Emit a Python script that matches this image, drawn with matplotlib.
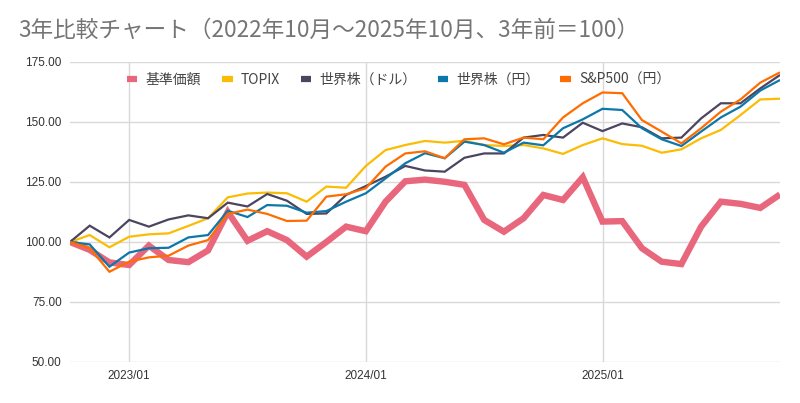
import matplotlib
matplotlib.use('Agg')
import matplotlib.pyplot as plt
import numpy as np
import pandas as pd

plt.rcParams['font.family'] = ['Noto Sans CJK JP', 'DejaVu Sans']

TITLE = '3年比較チャート（2022年10月～2025年10月、3年前＝100）'

months = [d.strftime('%Y/%m') for d in pd.date_range('2022-10-01', periods=37, freq='MS')]

fund = [100, 96.7, 91.5, 90.4, 98.5, 92.5, 91.6, 96.5, 112.5, 100.5, 104.5, 100.8,
        93.9, 100, 106.4, 104.5, 116.8, 125.3, 126, 125.1, 123.8, 109.2, 104.3, 109.9,
        119.6, 117.5, 127, 108.5, 108.7, 97.4, 91.8, 90.8, 106.4, 116.8, 115.9, 114.2,
        119.8]
topix = [100, 102.9, 97.8, 102.2, 103.2, 103.6, 106.7, 109.9, 118.6, 120.2, 120.6, 120.3,
         116.8, 123.1, 122.6, 131.7, 138.3, 140.4, 142.1, 141.4, 142.2, 140.4, 140, 140.4,
         139, 136.7, 140.4, 143.2, 140.8, 140.1, 137.2, 138.6, 143.2, 146.7, 152.9, 159.4,
         159.7]
world_usd = [100, 106.8, 101.9, 109.2, 106.4, 109.4, 111.1, 109.9, 116.4, 114.8, 120, 117.2,
             111.7, 111.9, 119.6, 123.3, 127.2, 131.7, 129.8, 129.3, 135.1, 136.9, 136.9, 143.5,
             144.6, 143.5, 149.7, 146.2, 149.4, 147.8, 143.2, 143.5, 151.5, 157.8, 157.8, 164,
             169.6]
world_jpy = [100, 99, 89.7, 95.6, 97.4, 97.6, 101.9, 102.9, 113, 110.4, 115.4, 115.1,
             112.2, 112.9, 116.8, 120.3, 126.5, 132.8, 137, 134.9, 141.8, 140.4, 137.2, 141.4,
             140.3, 147.4, 151.1, 155.5, 155, 147.4, 142.8, 140, 146, 151.9, 156.4, 163.1,
             167.5]
sp500_jpy = [100, 97.4, 87.6, 91.8, 93.6, 94.3, 98.5, 100.8, 111.7, 113.5, 111.7, 108.75,
             108.9, 118.9, 119.9, 122.4, 131.4, 136.9, 137.8, 134.9, 142.8, 143.2, 140.7, 143.5,
             142.8, 151.9, 157.8, 162.3, 162, 150.8, 146, 141.1, 147.4, 154.3, 159.4, 166.4,
             170.7]

series = [
    ('基準価額', fund, '#e8677c', 4.6),
    ('TOPIX', topix, '#fbbc04', 1.6),
    ('世界株（ドル）', world_usd, '#4b4560', 1.6),
    ('世界株（円）', world_jpy, '#0b77aa', 1.6),
    ('S&P500（円）', sp500_jpy, '#ff6d01', 1.6),
]

fig = plt.figure(figsize=(8, 4.03), dpi=100)
ax = fig.add_axes([70 / 800, 1 - 362 / 403, 710 / 800, 300 / 403])

x = np.arange(len(months))
for name, values, color, lw in series:
    ax.plot(x, values, color=color, linewidth=lw, label=name,
            solid_joinstyle='miter', solid_capstyle='butt')

ax.set_xlim(0, len(months) - 1)
ax.set_ylim(50, 175)
ax.set_yticks(np.arange(50, 176, 25))
ax.set_yticklabels(['%.2f' % v for v in np.arange(50, 176, 25)],
                   family=['Liberation Sans', 'DejaVu Sans'], fontsize=8.5, color='#333333')
jan = [i for i, m in enumerate(months) if m.endswith('/01')]
ax.set_xticks(jan)
ax.set_xticklabels([months[i] for i in jan],
                   family=['Liberation Sans', 'DejaVu Sans'], fontsize=8.5, color='#333333')
ax.tick_params(length=0, pad=6)
ax.grid(True, color='#d9d9d9', linewidth=1)
ax.set_axisbelow(True)
for s in ax.spines.values():
    s.set_visible(False)

leg = ax.legend(loc='upper center', bbox_to_anchor=(0.463, 1.005), ncol=5, frameon=False,
                fontsize=10, handlelength=0.75, handletextpad=0.6, columnspacing=1.5)
for line in leg.get_lines():
    line.set_linewidth(4.5)
for t in leg.get_texts():
    t.set_color('#444444')

fig.text(18 / 800, 1 - 30 / 403, TITLE, fontsize=16.3, color='#757575', va='center')

fig.savefig('out.png')
